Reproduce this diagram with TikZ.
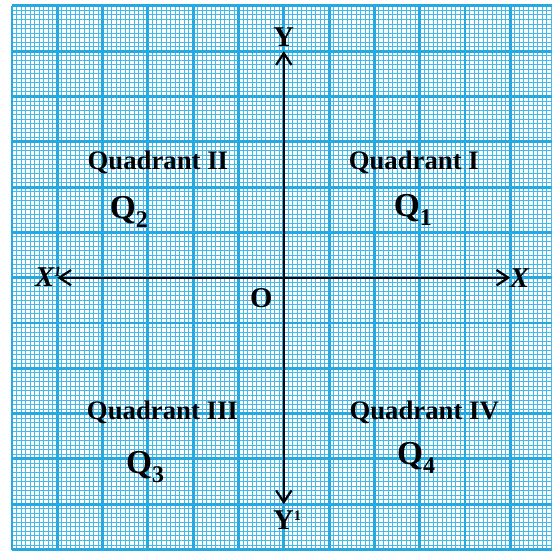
\documentclass[tikz,border=0pt]{standalone}
\usepackage{fontspec}
\setmainfont{Liberation Serif}
\usetikzlibrary{arrows.meta}
\definecolor{GraphBlue}{RGB}{38,169,224}
\definecolor{MinorBlue}{RGB}{70,185,235}
\newcommand{\supone}{\raisebox{6pt}{\fontsize{9}{9}\selectfont 1}}
\newcommand{\qsub}[1]{Q\raisebox{-6pt}{\fontsize{15}{15}\selectfont #1}}

\begin{document}
\begin{tikzpicture}[>={Straight Barb[length=2.6mm,width=3.4mm]},
    axislbl/.style={font=\fontsize{18}{20}\selectfont\bfseries},
    quadlbl/.style={font=\fontsize{16.8}{18}\selectfont\bfseries},
    qlbl/.style={font=\fontsize{21}{23}\selectfont\bfseries}]
      \useasboundingbox (-6.265,-6.03) rectangle (5.92,6.13);
      \clip (-6.265,-6.03) rectangle (5.92,6.13);
      % graph paper
      \draw[MinorBlue,line width=0.6pt,step=0.1] (-6,-6) grid (6,6);
      \draw[GraphBlue,line width=1.8pt,step=1] (-6,-6) grid (6,6);
      % axes
      \coordinate (xl) at (-5,0);
      \coordinate (xr) at (5,0);
      \coordinate (yt) at (0,5);
      \coordinate (yb) at (0,-5);
      \draw[<->,line width=1.4pt] (xl)--(xr);
      \draw[<->,line width=1.4pt] (yb)--(yt);
      \node[axislbl,font=\fontsize{18}{20}\selectfont\bfseries\itshape] (xlab) at (5.2,0) {X};
      \node[axislbl,font=\fontsize{18}{20}\selectfont\bfseries\itshape] (xplab) at (-5.2,0.02) {X\supone};
      \node[axislbl] (ylab) at (0,5.32) {Y};
      \node[axislbl] (yplab) at (0.07,-5.35) {Y\supone};
      \node[axislbl] (orig) at (-0.5,-0.45) {O};
      % quadrants
      \node[quadlbl] (q1) at (2.87,2.55) {Quadrant I};
      \node[quadlbl] (q2) at (-2.78,2.55) {Quadrant II};
      \node[quadlbl] (q3) at (-2.68,-2.97) {Quadrant III};
      \node[quadlbl] (q4) at (3.1,-2.97) {Quadrant IV};
      \node[qlbl] (Q1) at (2.85,1.5) {\qsub{1}};
      \node[qlbl] (Q2) at (-3.42,1.45) {\qsub{2}};
      \node[qlbl] (Q3) at (-3.06,-4.18) {\qsub{3}};
      \node[qlbl] (Q4) at (2.92,-3.98) {\qsub{4}};
    \end{tikzpicture}
\end{document}
